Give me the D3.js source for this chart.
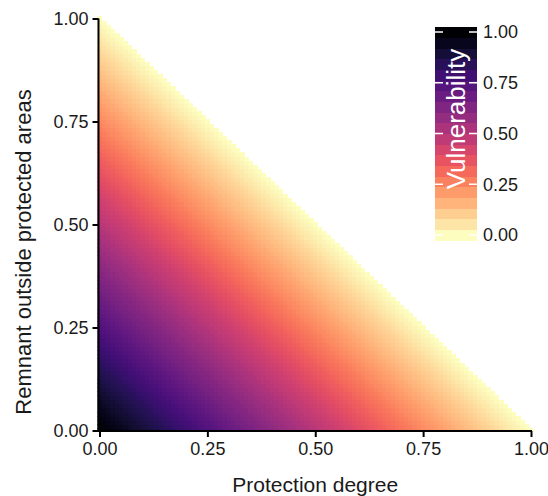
<!DOCTYPE html>
<html>
  <head>
    <meta http-equiv="Content-Type" content="text/html;charset=utf-8"/>
    <script src="https://d3js.org/d3.v7.min.js"></script>
    <style type="text/css">
      body { margin: 0; background: #fff; }
      text { font-family: "Liberation Sans", Arial, sans-serif; fill: #1a1a1a; }
    </style>
  </head>
  <body>
    <div id="chart"></div>

    <script type="text/javascript">
    // axis ticks
    var protectionTicks = [0, 0.25, 0.5, 0.75, 1];
    var remnantTicks = [0, 0.25, 0.5, 0.75, 1];
    var legendTicks = [0, 0.25, 0.5, 0.75, 1];
    // raster grid: 0.01 steps on both axes
    var gridStep = 0.01;
    var gridLevels = d3.range(0, 101).map(function(i) { return i * gridStep; });
    // colourbar bins
    var legendBins = 20;

    // vulnerability index shown by the raster
    function vulnerability(p, r) { return 1 - p - r; }

    var width = 548, height = 496;
    var svg = d3.select('#chart').append('svg')
        .attr('width', width).attr('height', height);

    var x = d3.scaleLinear().domain([0, 1]).range([99.5, 531]);
    var y = d3.scaleLinear().domain([0, 1]).range([430.5, 18.5]);
    var fill = function(v) { return d3.interpolateMagma(1 - v); };

    var cells = [];
    gridLevels.forEach(function(p) {
      gridLevels.forEach(function(r) {
        if (p + r <= 1 + 1e-9) cells.push({p: p, r: r, v: vulnerability(p, r)});
      });
    });

    svg.append('clipPath').attr('id', 'panel')
      .append('rect')
      .attr('x', x(0) - 2).attr('y', y(1) - 3)
      .attr('width', x(1) - x(0) + 5).attr('height', y(0) - y(1) + 4);

    svg.append('g').attr('clip-path', 'url(#panel)')
      .attr('shape-rendering', 'crispEdges')
      .selectAll('rect').data(cells).enter().append('rect')
      .attr('x', function(d) { return x(d.p - gridStep / 2); })
      .attr('y', function(d) { return y(d.r + gridStep / 2); })
      .attr('width', x(gridStep) - x(0) + 0.6)
      .attr('height', y(0) - y(gridStep) + 0.6)
      .attr('fill', function(d) { return fill(d.v); });

    // axes
    var xAxis = d3.axisBottom(x).tickValues(protectionTicks)
        .tickFormat(d3.format('.2f')).tickSize(6).tickPadding(5);
    var yAxis = d3.axisLeft(y).tickValues(remnantTicks)
        .tickFormat(d3.format('.2f')).tickSize(6).tickPadding(4);

    var gx = svg.append('g').attr('transform', 'translate(0,' + (y(0) + 0.5) + ')').call(xAxis);
    var gy = svg.append('g').attr('transform', 'translate(' + (x(0) - 1) + ',0)').call(yAxis);
    [gx, gy].forEach(function(g) {
      g.select('.domain').remove();
      g.selectAll('line').attr('stroke', '#000').attr('stroke-width', 2);
      g.selectAll('text').style('font-size', '18px').attr('fill', '#1a1a1a')
        .style('font-family', '"Liberation Sans", Arial, sans-serif');
    });
    gx.append('line').attr('x1', x(0) - 2).attr('x2', x(1) + 1)
      .attr('stroke', '#000').attr('stroke-width', 2);
    gy.append('line').attr('y1', y(1)).attr('y2', y(0) + 1.5)
      .attr('stroke', '#000').attr('stroke-width', 2);

    svg.append('text').attr('x', (x(0) + x(1)) / 2).attr('y', 492)
      .attr('text-anchor', 'middle').style('font-size', '21px')
      .text('Protection degree');
    svg.append('text')
      .attr('transform', 'translate(31,' + 252 + ') rotate(-90)')
      .attr('text-anchor', 'middle').style('font-size', '22px')
      .text('Remnant outside protected areas');

    // legend colourbar
    var ly = d3.scaleLinear().domain([0, 1]).range([235, 32]);
    var barX = 435, barW = 42;
    var binVals = d3.range(legendBins).map(function(i) { return i / (legendBins - 1); });
    var binH = (ly(0) - ly(1)) / (legendBins - 1);
    var leg = svg.append('g');
    leg.selectAll('rect').data(binVals).enter().append('rect')
      .attr('x', barX).attr('width', barW)
      .attr('y', function(d) { return ly(d) - binH / 2; })
      .attr('height', binH + 0.5)
      .attr('shape-rendering', 'crispEdges')
      .attr('fill', function(d) { return fill(d); });
    legendTicks.forEach(function(t) {
      leg.append('line').attr('x1', barX).attr('x2', barX + 8)
        .attr('y1', ly(t)).attr('y2', ly(t)).attr('stroke', '#fff').attr('stroke-width', 1.5);
      leg.append('line').attr('x1', barX + barW - 8).attr('x2', barX + barW)
        .attr('y1', ly(t)).attr('y2', ly(t)).attr('stroke', '#fff').attr('stroke-width', 1.5);
      leg.append('text').attr('x', barX + barW + 6).attr('y', ly(t))
        .attr('dy', '0.35em').style('font-size', '18px')
        .text(d3.format('.2f')(t));
    });
    leg.append('text')
      .attr('transform', 'translate(' + (barX + barW / 2 + 9) + ',119) rotate(-90)')
      .attr('text-anchor', 'middle').style('font-size', '26px')
      .style('fill', '#fff')
      .text('Vulnerability');
    </script>
  </body>
</html>
